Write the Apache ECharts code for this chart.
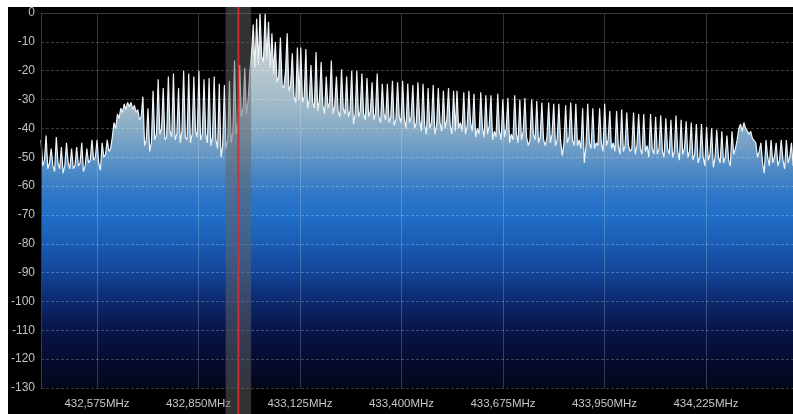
<!DOCTYPE html>
<html>
<head>
<meta charset="utf-8">
<script src="https://cdn.jsdelivr.net/npm/echarts@6/dist/echarts.min.js"></script>
<style>
  html, body { margin: 0; padding: 0; background: #fff; width: 793px; height: 414px; overflow: hidden; }
  #spectrum { position: absolute; left: 8px; top: 7px; width: 785px; height: 407px; background: #000; }
</style>
</head>
<body>
<div id="spectrum"></div>
<script>
// FFT bin layout (MHz)
const startMHz = 432.4233;
const binMHz = 0.0046;
const spanMHz = [432.4233, 434.4607];

// frequency axis labels (MHz) and level axis range (dB)
const freqTicks = [432.575, 432.850, 433.125, 433.400, 433.675, 433.950, 434.225];
const levelRange = [-130, 0];
const levelStep = 10;

// receiver tuning and filter passband
const tunedMHz = 432.958;
const filterHalfWidthMHz = 0.0345;

// spectrum levels per bin (dB), lowest frequency first
const noiseLow = [
  -44, -53, -51, -42.5, -54, -52, -47, -53, -55, -43, -52, -54,
  -46.5, -55.5, -53, -45, -52, -54, -47, -54, -53, -46.5, -53, -52,
  -45, -55, -53, -47, -52, -51, -44, -51, -50, -44, -52, -54.5,
  -45, -50, -49, -44, -48, -47
];
const humpLow = [
  -43, -38, -40, -35, -36.5, -33, -34.5, -31.5, -33.5, -31, -32.5, -31,
  -33.5, -32, -34.5, -33.5, -37, -36
];
const combBelowCarrier = [
  -29, -46, -44, -33, -48, -45, -27, -44, -42, -23, -42, -40,
  -26, -44, -43, -22, -41, -43, -21, -44, -42, -26, -45, -41,
  -20, -43, -44, -21, -45, -42, -22, -41, -43, -20, -44, -42,
  -23, -42, -45, -22.5, -46, -43, -22, -44, -47, -24.5, -50, -46,
  -25, -47, -44, -23.5, -45, -41, -16.5, -42, -38, -18, -36, -33,
  -19, -35, -30, -20, -14
];
const carrierPeak = [
  -4, -19, -2, -18, 0, -15, -17, 0, -16, -3, -19, -7,
  -21, -10, -24, -22, -8.5, -25, -26, -20, -7, -27, -25, -14,
  -29, -31, -12, -30
];
const combUpper = [
  -12, -31, -29, -12.5, -33, -30, -18, -31, -33, -13.5, -34, -30,
  -17, -32, -35, -22, -33, -31, -16.5, -35, -32, -22, -34, -36,
  -19.5, -33, -35, -22, -36, -34, -20, -38.5, -35, -20, -36, -34,
  -21, -35, -37, -22.5, -36, -34, -24, -37, -35, -21, -36, -38,
  -24.5, -35, -37, -24.5, -38, -36, -23.5, -39, -37, -24, -36, -38,
  -23.5, -37, -40, -24.5, -38, -36, -25, -40, -38, -24, -37, -41,
  -24.5, -39, -42, -26, -40, -38, -25, -42, -39, -26, -38, -41,
  -27, -40, -37, -26, -39, -42, -27, -41
];
const combMiddle = [
  -27, -40, -38, -41, -27.5, -42, -39, -27, -38, -41,
  -28, -43, -40, -42, -27.5, -40, -43, -28.5, -42, -39,
  -28.5, -44, -41, -43, -28, -41, -44, -30, -43, -40,
  -29.5, -45, -42, -44, -28.5, -42, -45, -30, -44, -41,
  -29.5, -43, -46, -44, -30, -42, -44, -30.5, -45, -43,
  -31, -44, -46, -43, -31, -45, -42, -31.5, -46, -44,
  -31.5, -44, -49.5, -45, -32, -45, -43, -31, -44, -46,
  -31.5, -46, -44, -47, -33, -52, -46, -31.5, -45, -47,
  -33, -47, -45, -46, -33, -45, -48, -31.5, -46, -44,
  -34, -47, -45, -48, -34, -46, -49, -33.5, -48, -46,
  -34.5, -46, -48, -47, -34.5, -49, -46, -35, -47, -49,
  -35, -48, -46, -50, -35, -47, -49, -36, -49, -47,
  -35.5, -48, -50, -36.5, -47, -49, -37, -50, -48, -35.5,
  -48, -51, -37, -49, -47, -37.5, -50, -48
];
const combHigh = [
  -38, -51, -49, -38.5, -52, -50, -38.5, -50, -53, -39.5, -51, -49,
  -40, -53.5, -50, -40.5, -50, -52, -41, -52, -50, -42.5, -51, -53,
  -41, -49, -47,
  -44, -40, -38.5, -41, -38, -40, -39.5, -42, -41, -43.5, -43,
  -45, -50, -48, -45, -52, -55.5, -44, -50, -53, -44, -52, -50,
  -45, -53, -51, -44, -51, -54, -44, -52, -50, -45, -53, -51
];

const levels = [].concat(noiseLow, humpLow, combBelowCarrier, carrierPeak,
                         combUpper, combMiddle, combHigh);
const spectrum = levels.map((db, i) => [startMHz + i * binMHz, db]);

const fontFamily = '"Liberation Sans", Arial, sans-serif';

const chart = echarts.init(document.getElementById('spectrum'), null, { renderer: 'canvas' });

// vertical colour ramp tied to the level scale (grid top = 0 dB, grid bottom = -130 dB)
const gridTop = 5, gridBottom = 26, gridLeft = 33;
const plotBottomY = 407 - gridBottom;
const fillRamp = new echarts.graphic.LinearGradient(0, gridTop, 0, plotBottomY, [
  { offset: 0.000, color: '#cdd5d8' },
  { offset: 0.154, color: '#b8c8ce' },
  { offset: 0.269, color: '#98b5c7' },
  { offset: 0.346, color: '#77a2c6' },
  { offset: 0.423, color: '#4c89c5' },
  { offset: 0.485, color: '#2e77c8' },
  { offset: 0.538, color: '#216fc8' },
  { offset: 0.615, color: '#1a5db4' },
  { offset: 0.692, color: '#124598' },
  { offset: 0.769, color: '#0c296e' },
  { offset: 0.846, color: '#081549' },
  { offset: 0.923, color: '#050c2f' },
  { offset: 1.000, color: '#03061b' }
], true);

chart.setOption({
  animation: false,
  backgroundColor: '#000',
  grid: { left: gridLeft, right: 0, top: gridTop, bottom: gridBottom },
  xAxis: {
    type: 'value',
    min: spanMHz[0],
    max: spanMHz[1],
    axisLine: { show: true, lineStyle: { color: '#3a3a3a', width: 1 } },
    axisTick: { show: false, customValues: freqTicks },
    axisLabel: {
      customValues: freqTicks,
      margin: 10,
      color: '#c6c6c6',
      fontSize: 11.5,
      fontFamily: fontFamily,
      formatter: v => v.toFixed(3).replace('.', ',') + 'MHz'
    },
    splitLine: { show: true, lineStyle: { color: 'rgba(255,255,255,0.2)', width: 1, type: 'solid' } }
  },
  yAxis: {
    type: 'value',
    min: levelRange[0],
    max: levelRange[1],
    interval: levelStep,
    axisLine: { show: true, lineStyle: { color: '#3a3a3a', width: 1 } },
    axisTick: { show: false },
    axisLabel: { margin: 6, color: '#c2c2c2', fontSize: 12, fontFamily: fontFamily },
    splitLine: { show: true, lineStyle: { color: 'rgba(255,255,255,0.24)', width: 1, type: [3, 2] } }
  },
  series: [{
    type: 'line',
    z: -1,
    data: spectrum,
    showSymbol: false,
    symbol: 'none',
    smooth: false,
    lineStyle: { color: '#eef3f6', width: 1.2 },
    areaStyle: { origin: 'start', color: fillRamp, opacity: 1 }
  }]
});

// filter passband shading and tuning marker, spanning the full panel height
const bandLeft = chart.convertToPixel({ xAxisIndex: 0 }, tunedMHz - filterHalfWidthMHz);
const bandRight = chart.convertToPixel({ xAxisIndex: 0 }, tunedMHz + filterHalfWidthMHz);
const tunedX = chart.convertToPixel({ xAxisIndex: 0 }, tunedMHz);
chart.setOption({
  graphic: [
    {
      type: 'rect', z: 100,
      shape: { x: bandLeft, y: 0, width: bandRight - bandLeft, height: 407 },
      style: { fill: 'rgba(100,100,100,0.5)' }
    },
    {
      type: 'rect', z: 101,
      shape: { x: tunedX - 1, y: 0, width: 2, height: 407 },
      style: { fill: 'rgba(215,45,45,0.9)' }
    }
  ]
});
</script>
</body>
</html>
